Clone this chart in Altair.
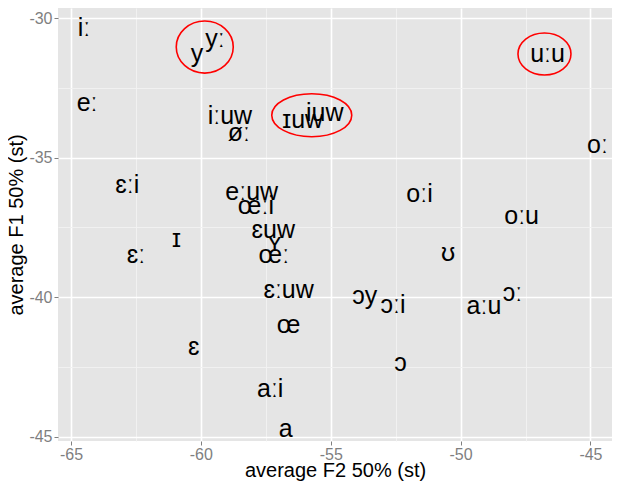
import altair as alt
import pandas as pd

# vowel labels with average F2 / F1 (semitones)
labels = ["iː", "y", "yː", "uːu", "eː", "iːuw", "øː", "ɪuw", "iuw", "oː",
          "ɛːi", "eːuw", "œːi", "ɛuw", "ʏ", "œː", "ɪ", "ɛː", "oːi", "oːu",
          "ʊ", "ɛːuw", "ɔy", "ɔːi", "aːu", "ɔː", "œ", "ɛ", "ɔ", "aːi", "a"]
f2 = [-64.5, -60.15, -59.46, -46.65, -64.38, -58.88, -58.54, -56.08, -55.23, -44.73,
      -62.83, -58.04, -57.88, -57.21, -57.15, -57.19, -60.94, -62.5, -51.58, -47.65,
      -50.48, -56.62, -53.69, -52.6, -49.1, -48.0, -56.62, -60.27, -52.31, -57.33, -56.73]
f1 = [-30.32, -31.25, -30.71, -31.25, -33.0, -33.46, -34.07, -33.61, -33.36, -34.5,
      -35.95, -36.18, -36.71, -37.55, -38.02, -38.45, -37.88, -38.45, -36.27, -37.05,
      -38.39, -39.71, -39.93, -40.25, -40.27, -39.8, -40.96, -41.75, -42.34, -43.27, -44.68]

# highlighted groups (red ellipses): centres in data units
ring_names = ["y", "uːu", "ɪuw"]
ring_f2 = [-59.85, -46.77, -55.73]
ring_f1 = [-31.04, -31.29, -33.48]
ring_rx = [28.5, 26.5, 40.0]   # pixel radii
ring_ry = [26.0, 21.0, 21.5]

x_ticks = [-65, -62.5, -60, -57.5, -55, -52.5, -50, -47.5, -45]
y_ticks = [-30, -32.5, -35, -37.5, -40, -42.5, -45]

title_text = "SP in Schanfigg"

df = pd.DataFrame({"label": labels, "f2": f2, "f1": f1})

ring_paths = [
    "M-1,0A1,{k},0,1,0,1,0A1,{k},0,1,0,-1,0Z".format(k=round(ry / rx, 4))
    for rx, ry in zip(ring_rx, ring_ry)
]
rings = pd.DataFrame({
    "name": ring_names, "f2": ring_f2, "f1": ring_f1,
    "size": [(2 * rx) ** 2 for rx in ring_rx],
})

grey = "#7F7F7F"
minor_test = "datum.value % 5 != 0"

def make_axis(title, values, label_size, title_size, label_pad, title_pad):
    return alt.Axis(
        title=title,
        values=values,
        labelExpr="datum.value % 5 == 0 ? '' + datum.value : ''",
        grid=True,
        gridColor={"condition": {"test": minor_test, "value": "#F2F2F2"}, "value": "#FFFFFF"},
        gridWidth={"condition": {"test": minor_test, "value": 0.9}, "value": 1.6},
        tickOpacity={"condition": {"test": minor_test, "value": 0}, "value": 1},
        tickColor=grey,
        tickSize=4,
        tickWidth=1,
        domain=False,
        labelColor=grey,
        labelFont="Liberation Sans",
        labelFontSize=label_size,
        labelPadding=label_pad,
        labelOverlap=False,
        titleFont="Liberation Sans",
        titleFontSize=title_size,
        titleFontWeight="normal",
        titleColor="#000000",
        titlePadding=title_pad,
    )

xscale = alt.Scale(domain=[-65.5, -44.17], nice=False, zero=False)
yscale = alt.Scale(domain=[-45.154, -29.64], nice=False, zero=False)

text = alt.Chart(df).mark_text(
    font="Liberation Sans", fontSize=25, color="#000000",
    align="center", baseline="middle", dy=1,
).encode(
    x=alt.X("f2:Q", scale=xscale,
            axis=make_axis("average F2 50% (st)", x_ticks, 16, 20, 1, -2)),
    y=alt.Y("f1:Q", scale=yscale,
            axis=make_axis("average F1 50% (st)", y_ticks, 16, 20, 2, 2)),
    text="label:N",
)

ring = alt.Chart(rings).mark_point(
    filled=False, stroke="#FF0000", strokeWidth=1.6, opacity=1,
).encode(
    x=alt.X("f2:Q", scale=xscale),
    y=alt.Y("f1:Q", scale=yscale),
    shape=alt.Shape("name:N", scale=alt.Scale(domain=ring_names, range=ring_paths), legend=None),
    size=alt.Size("size:Q", scale=None, legend=None),
)

chart = alt.layer(text, ring).properties(
    width=554,
    height=433,
    title=alt.TitleParams(title_text, fontSize=22, font="Liberation Sans",
                          fontWeight="normal", anchor="middle"),
    autosize=alt.AutoSizeParams(type="none"),
    padding={"left": 50, "top": 0, "right": 0, "bottom": 41},
).configure_view(
    fill="#E5E5E5", strokeWidth=0,
)

chart.save("out.html", embed_options={"renderer": "svg", "actions": False})
